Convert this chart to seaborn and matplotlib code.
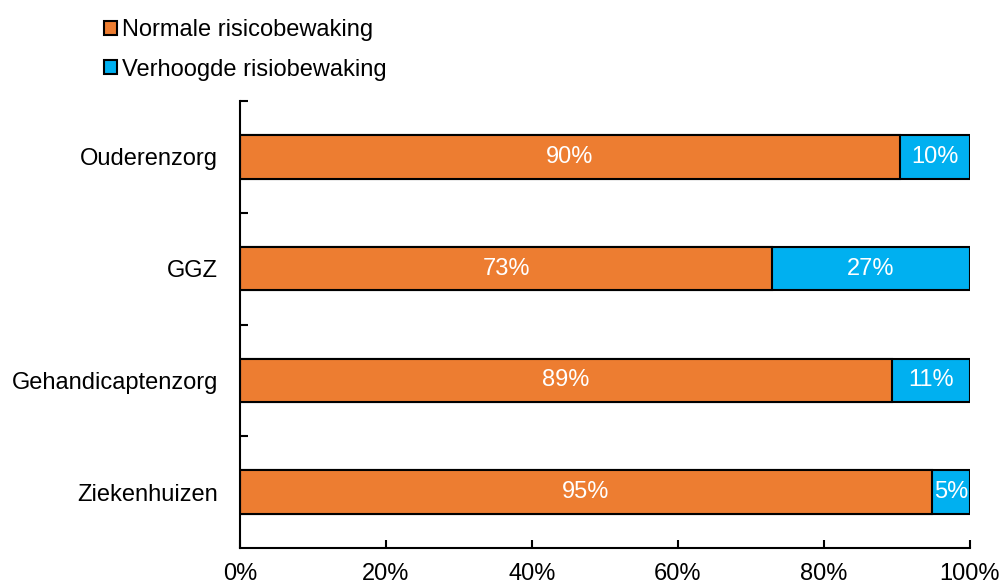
import pandas as pd
import matplotlib.pyplot as plt
import matplotlib.patches as mpatches
import seaborn as sns

# data
categories = ['Ouderenzorg', 'GGZ', 'Gehandicaptenzorg', 'Ziekenhuizen']
normale = [90.4, 72.9, 89.3, 94.8]
verhoogde = [9.6, 27.1, 10.7, 5.2]
series_names = ['Normale risicobewaking', 'Verhoogde risiobewaking']

orange = '#ED7D31'
blue = '#00B0F0'

sns.set_theme(style='white')
plt.rcParams['font.family'] = ['Liberation Sans', 'DejaVu Sans']
plt.rcParams['text.color'] = 'black'
plt.rcParams['xtick.color'] = 'black'
plt.rcParams['ytick.color'] = 'black'

df = pd.DataFrame({'cat': categories, 'normale': normale, 'verhoogde': verhoogde})
df['totaal'] = df['normale'] + df['verhoogde']

fig = plt.figure(figsize=(10.03, 5.88), dpi=100)
ax = fig.add_axes([240 / 1003, 1 - 548 / 588, 730 / 1003, 447 / 588])

sns.barplot(data=df, y='cat', x='totaal', color=blue, orient='h', width=0.39,
            edgecolor='black', linewidth=1.5, saturation=1, ax=ax)
sns.barplot(data=df, y='cat', x='normale', color=orange, orient='h', width=0.39,
            edgecolor='black', linewidth=1.5, saturation=1, ax=ax)

fs = 17
for i, row in df.iterrows():
    ax.text(row['normale'] / 2, i, f"{round(row['normale'])}%", color='white',
            ha='center', va='center', fontsize=fs)
    ax.text(row['normale'] + row['verhoogde'] / 2, i, f"{round(row['verhoogde'])}%",
            color='white', ha='center', va='center', fontsize=fs)

ax.set_xlim(0, 100)
ax.set_ylim(3.5, -0.5)
ax.set_xticks([0, 20, 40, 60, 80, 100])
ax.set_xticklabels([f'{v}%' for v in [0, 20, 40, 60, 80, 100]], fontsize=fs)
ax.set_yticks([0, 1, 2, 3])
ax.set_yticklabels(categories, fontsize=fs)
ax.set_yticks([-0.5, 0.5, 1.5, 2.5], minor=True)
ax.tick_params(axis='y', which='major', length=0, pad=16)
ax.tick_params(axis='y', which='minor', direction='in', length=6, width=1.5, color='black', left=True)
ax.tick_params(axis='x', direction='in', length=6, width=1.5, color='black', bottom=True, pad=11)
ax.set_xlabel('')
ax.set_ylabel('')
for s in ['top', 'right']:
    ax.spines[s].set_visible(False)
for s in ['left', 'bottom']:
    ax.spines[s].set_color('black')
    ax.spines[s].set_linewidth(1.5)

handles = [mpatches.Patch(facecolor=orange, edgecolor='black', linewidth=1.5),
           mpatches.Patch(facecolor=blue, edgecolor='black', linewidth=1.5)]
fig.legend(handles, series_names, loc='upper left', bbox_to_anchor=(104 / 1003, 1 - 19 / 588),
           frameon=False, fontsize=fs, handlelength=0.55, handleheight=0.55,
           handletextpad=0.2, labelspacing=0.75, borderpad=0, borderaxespad=0)

fig.savefig('out.png', dpi=100)
